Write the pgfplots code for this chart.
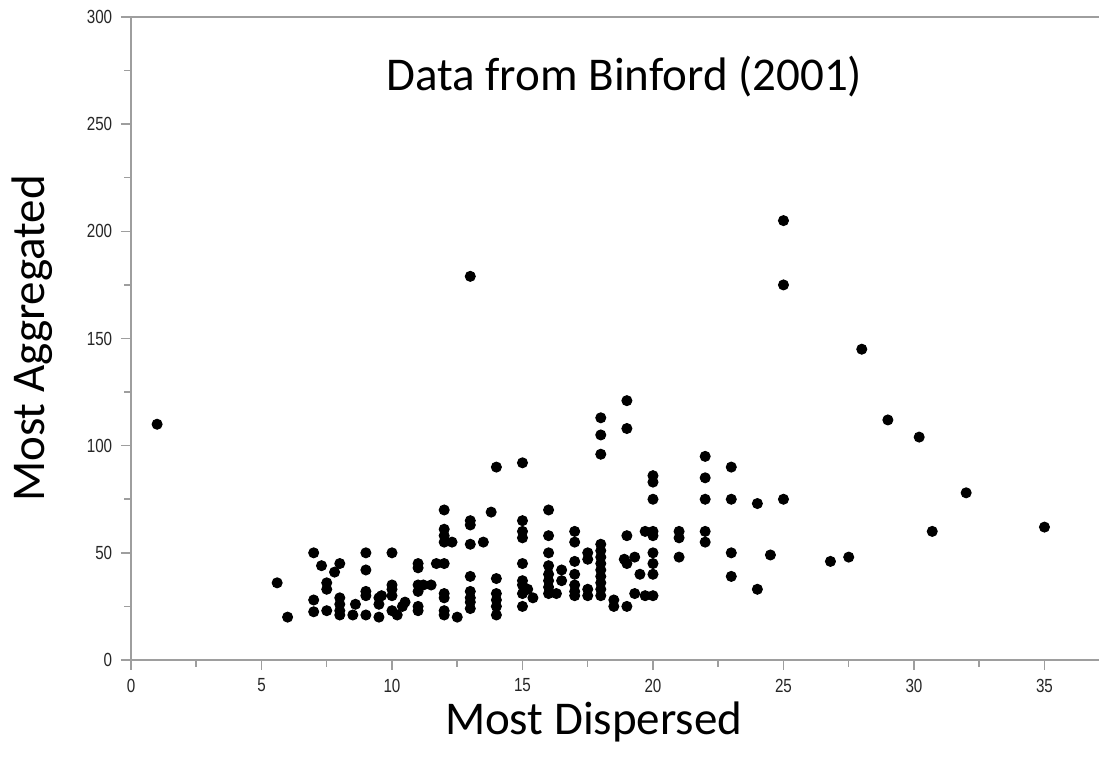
\documentclass[border=0pt]{standalone}
\usepackage{fontspec}
\setmainfont{Carlito}
\newfontfamily\tickfont[FakeStretch=0.8]{Liberation Sans}
\usepackage{pgfplots}
\pgfplotsset{compat=1.18}
\pgfplotstableread{
x y
1 110
5.6 36
6 20
7 50
7 28
7 22.5
7.3 44
7.5 36
7.5 33
7.5 23
7.8 41
8 45
8 29
8 26
8 23
8 21
8.5 21
8.6 26
9 50
9 42
9 32
9 30
9 21
9.5 29
9.5 26
9.5 20
9.6 30
10 50
10 35
10 33
10 30
10 23
10.2 21
10.5 27
10.4 25
11 45
11 43
11 35
11 32
11 25
11 23
11.2 35
11.5 35
11.7 45
12 70
12 61
12 58
12 55
12 45
12 31
12 29
12 23
12 21
12.3 55
12.5 20
13 179
13 65
13 63
13 54
13 39
13 32
13 29
13 27
13 24
13.5 55
13.8 69
14 90
14 38
14 31
14 28
14 25
14 21
15 92
15 65
15 60
15 57
15 45
15 37
15 35
15 31
15 25
15.2 33
15.4 29
16 70
16 58
16 50
16 44
16 40
16 37
16 34
16 31
16.3 31
16.5 42
16.5 37
17 60
17 55
17 46
17 40
17 35
17 32
17 30
17.5 50
17.5 47
17.5 33
17.5 30
18 113
18 105
18 96
18 54
18 51
18 48
18 45
18 42
18 39
18 36
18 33
18 30
18.5 28
18.5 25
18.9 47
19 121
19 108
19 58
19 45
19 25
19.3 48
19.3 31
19.5 40
19.7 60
19.7 30
20 86
20 83
20 75
20 60
20 58
20 50
20 45
20 40
20 30
21 60
21 57
21 48
22 95
22 85
22 75
22 60
22 55
23 90
23 75
23 50
23 39
24 73
24 33
24.5 49
25 205
25 175
25 75
26.8 46
27.5 48
28 145
29 112
30.2 104
30.7 60
32 78
35 62
}\binford
\begin{document}
\begin{tikzpicture}
\begin{axis}[
  scale only axis,
  width=387.2pt, height=257.2pt,
  xmin=0, xmax=37.09, ymin=0, ymax=300,
  axis x line*=box, axis y line*=left,
  xtick pos=bottom, ytick pos=left,
  xtick={0,5,...,35}, ytick={0,50,...,300},
  minor x tick num=1, minor y tick num=1,
  tick align=outside,
  major tick length=4pt, minor tick length=2.7pt,
  axis line style={draw=black!38, line width=0.6pt},
  every tick/.style={draw=black!38, line width=0.6pt},
  /pgf/number format/assume math mode=true,
  tick label style={font=\tickfont\fontsize{7.6}{8}\selectfont, text=black!85},
  xlabel={Most Dispersed},
  xlabel style={font=\fontsize{18.8}{22}\selectfont, at={(axis description cs:0.478,0)}, anchor=base, yshift=-30pt},
  ylabel={Most Aggregated},
  ylabel style={font=\fontsize{18.8}{22}\selectfont, at={(axis description cs:0,0.5)}, anchor=base, yshift=34.4pt},
  clip=false,
]
\addplot[only marks, mark=*, mark size=2pt, black] table[x=x, y=y] {\binford};
\node[anchor=base, font=\fontsize{18.8}{22}\selectfont] at (axis cs:18.9,265.6) {Data from Binford (2001)};
\coordinate (sw) at (rel axis cs:0,0);
\coordinate (ne) at (rel axis cs:1,1);
\end{axis}
\pgfresetboundingbox
\path[use as bounding box] ([shift={(-52.4pt,-41.2pt)}]sw) rectangle ([yshift=6.8pt]ne);
\end{tikzpicture}
\end{document}
